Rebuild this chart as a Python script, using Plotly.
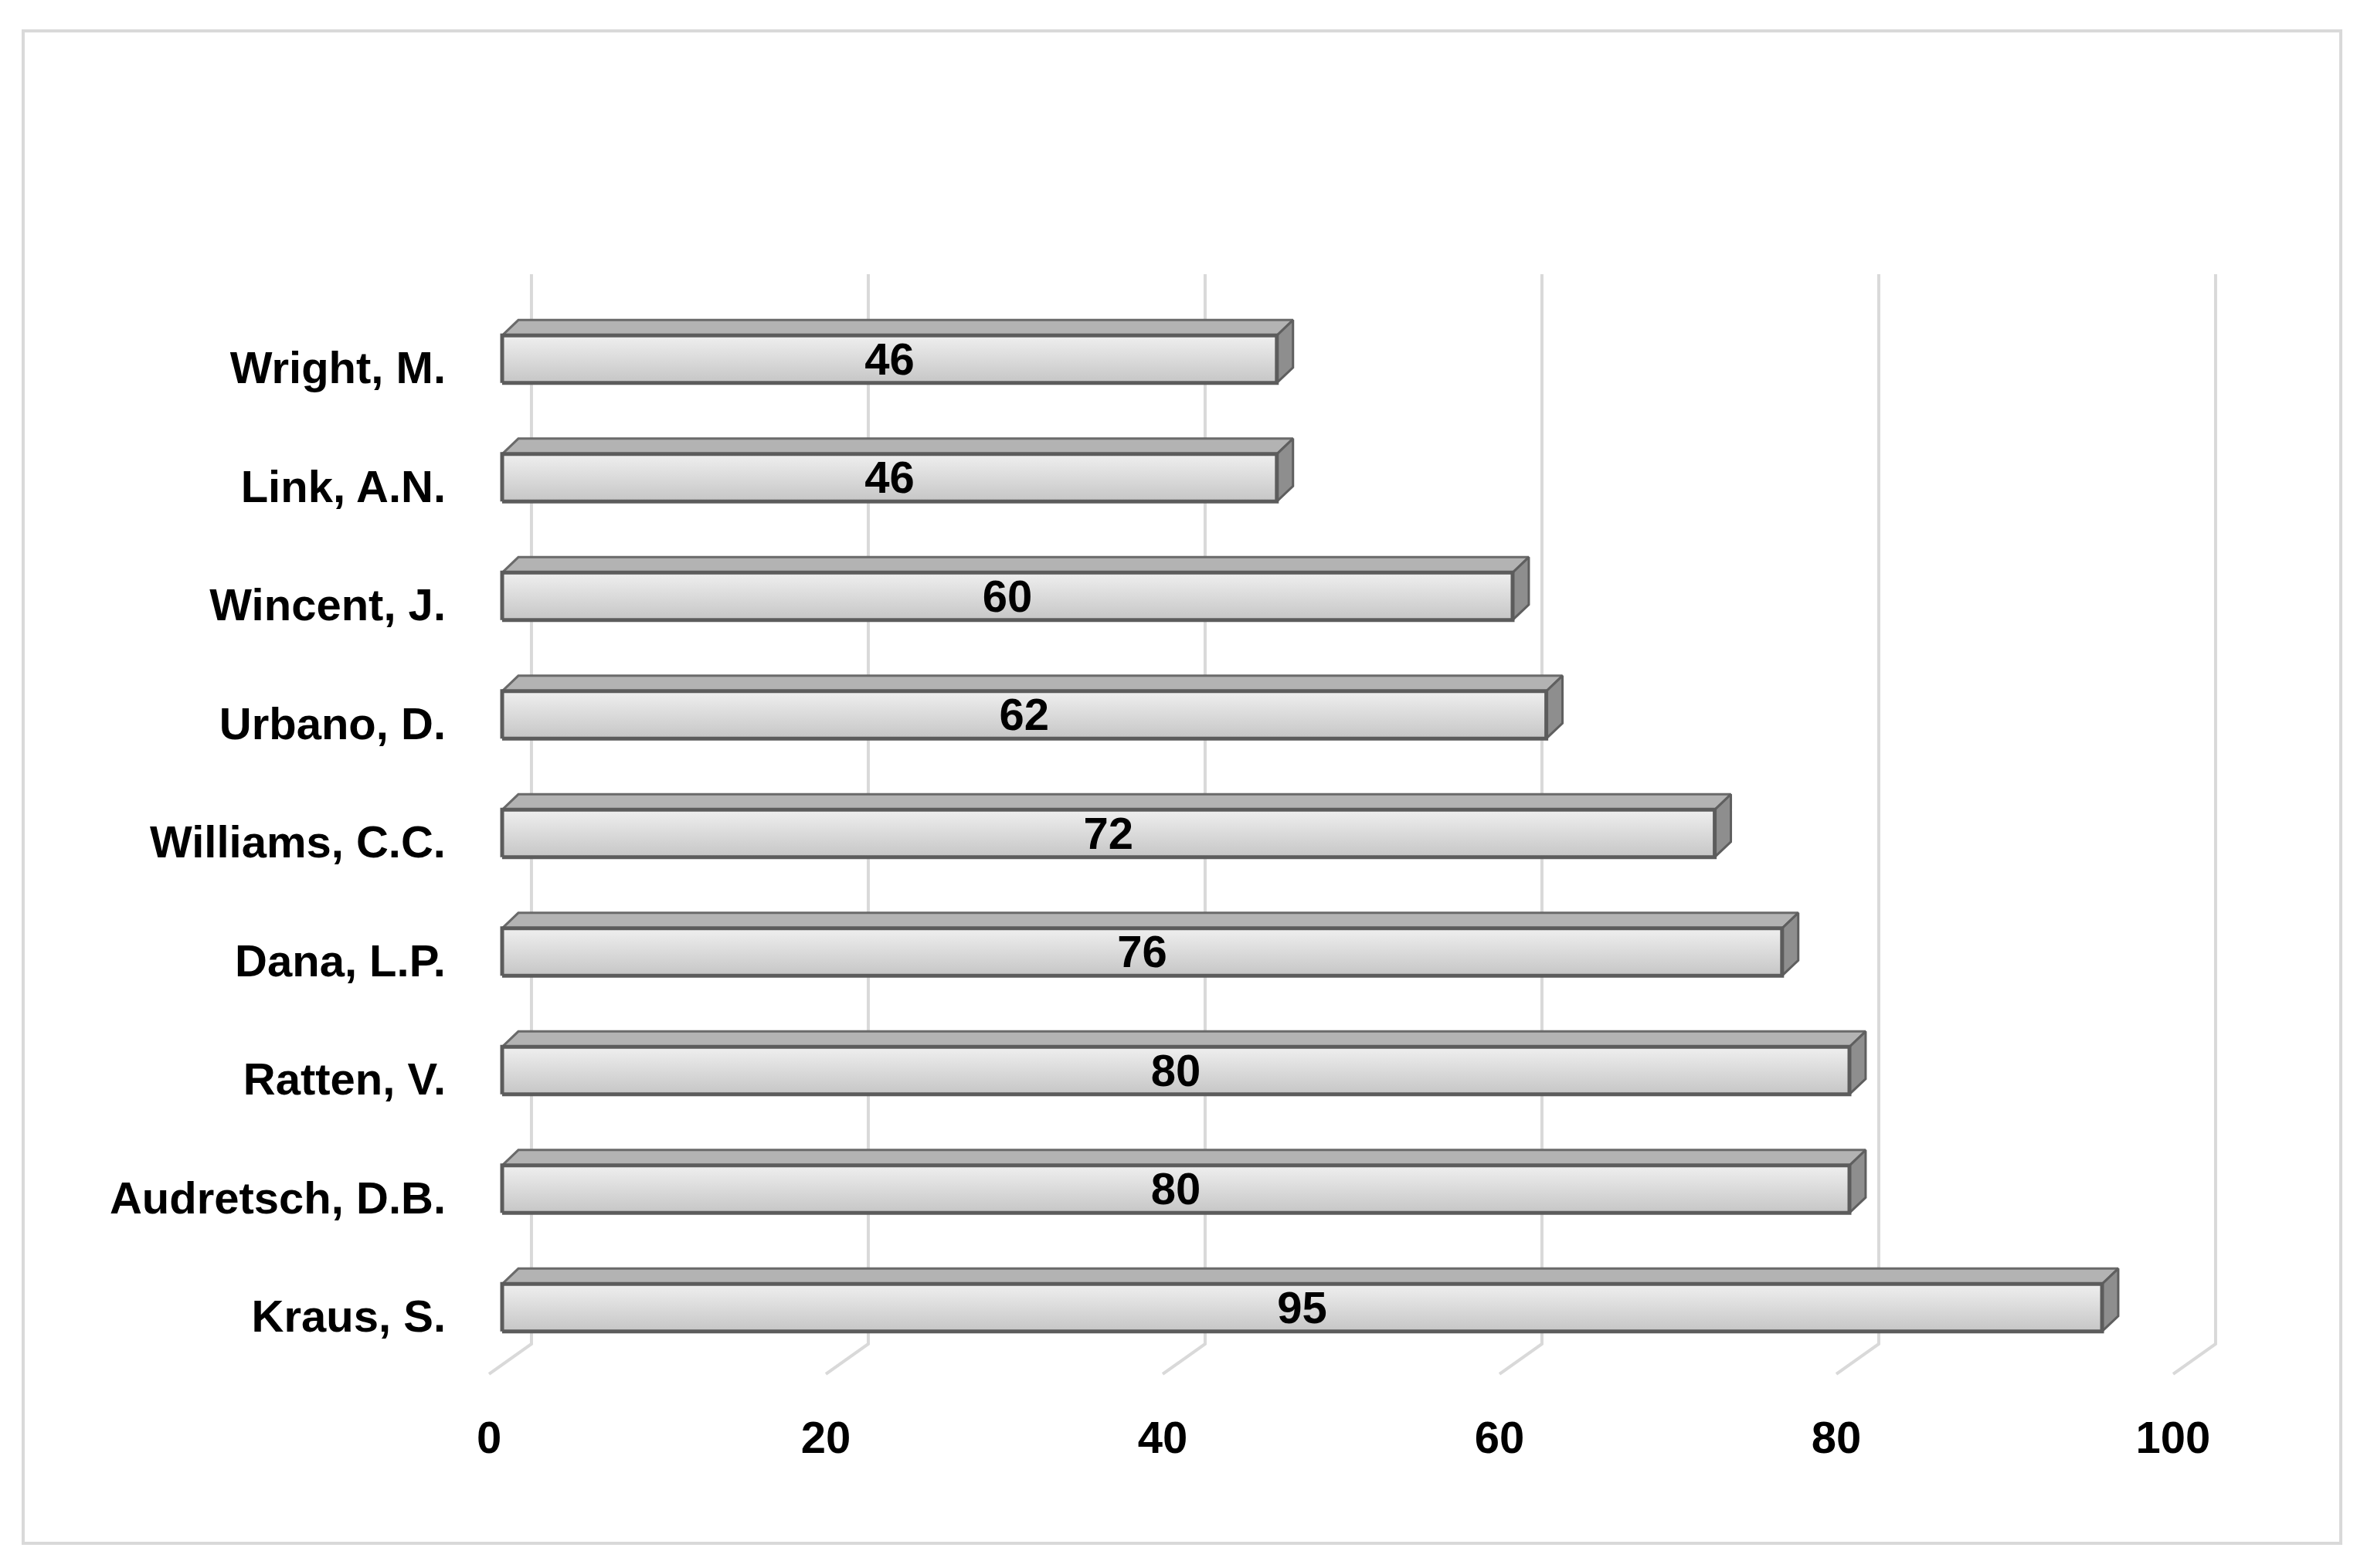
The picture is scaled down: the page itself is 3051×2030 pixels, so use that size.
import plotly.graph_objects as go

authors = ["Kraus, S.", "Audretsch, D.B.", "Ratten, V.", "Dana, L.P.", "Williams, C.C.",
           "Urbano, D.", "Wincent, J.", "Link, A.N.", "Wright, M."]
documents = [95, 80, 80, 76, 72, 62, 60, 46, 46]
x_ticks = [0, 20, 40, 60, 80, 100]

# canvas / plot area in pixels
W_FIG, H_FIG = 3051, 2030
PL, PT, PW, PH = 592, 292, 2300, 1500

# x: 0 -> px 650, 21.8 px per unit ; y: category pitch 153.5 px
X_MIN, X_MAX = -50 / 21.8, -50 / 21.8 + PW / 21.8
Y_MAX, Y_MIN = (1693 - 300) / 153.5, -(300 + PH - 1693) / 153.5

FONT = "Liberation Sans"
BAR_H = 0.40          # front face height (category units)
DX, DY = 0.96, 0.13   # 3d depth offset of the bars
WALL_DX = 1.74        # back wall offset of gridlines
FRONT_DX = -0.78      # front plane offset (tick labels)
GRID_TOP, WALL_BOTTOM, FRONT_BOTTOM = 8.717, -0.306, -0.56
TEXT_DY = -0.035      # labels sit slightly below bar centre
LABEL_DY = -0.07

fig = go.Figure()

# back wall gridlines + floor diagonals
for t in x_ticks:
    fig.add_trace(go.Scatter(
        x=[t + WALL_DX, t + WALL_DX, t + FRONT_DX],
        y=[GRID_TOP, WALL_BOTTOM, FRONT_BOTTOM],
        mode="lines", line=dict(color="#d9d9d9", width=4),
        hoverinfo="skip", showlegend=False))

for i, v in enumerate(documents):
    lo, hi = i - BAR_H / 2, i + BAR_H / 2
    # top face
    fig.add_trace(go.Scatter(
        x=[0, v, v + DX, DX, 0], y=[hi, hi, hi + DY, hi + DY, hi],
        fill="toself", fillcolor="#b3b3b3", mode="lines",
        line=dict(color="#6a6a6a", width=3), hoverinfo="skip", showlegend=False))
    # right side face
    fig.add_trace(go.Scatter(
        x=[v, v + DX, v + DX, v, v], y=[lo, lo + DY, hi + DY, hi, lo],
        fill="toself", fillcolor="#8e8e8e", mode="lines",
        line=dict(color="#5f5f5f", width=3), hoverinfo="skip", showlegend=False))
    # front face
    fig.add_trace(go.Scatter(
        x=[0, v, v, 0, 0], y=[lo, lo, hi, hi, lo],
        fill="toself", mode="lines",
        fillgradient=dict(type="vertical", colorscale=[[0, "#c6c6c6"], [1, "#efefef"]]),
        line=dict(color="#5c5c5c", width=5), hoverinfo="skip", showlegend=False))

# value labels
fig.add_trace(go.Scatter(
    x=[v / 2 for v in documents], y=[i + TEXT_DY for i in range(len(documents))],
    text=[str(v) for v in documents], mode="text",
    textfont=dict(family=FONT, size=58, color="black", weight="bold"),
    hoverinfo="skip", showlegend=False))

# outer chart frame
fx0, fx1, fy0, fy1 = 22, 3022, 32, 1990
fig.add_shape(type="rect", xref="paper", yref="paper",
              x0=(fx0 - PL) / PW, x1=(fx1 - PL) / PW,
              y0=(PT + PH - fy1) / PH, y1=(PT + PH - fy0) / PH,
              line=dict(color="#d9d9d9", width=4), layer="below")

fig.update_layout(
    width=W_FIG, height=H_FIG,
    margin=dict(l=PL, r=W_FIG - PL - PW, t=PT, b=H_FIG - PT - PH),
    plot_bgcolor="white", paper_bgcolor="white",
    showlegend=False,
    font=dict(family=FONT, size=58, color="black", weight="bold"),
)
fig.update_xaxes(range=[X_MIN, X_MAX], showgrid=False, zeroline=False, showline=False,
                 tickvals=[t + FRONT_DX for t in x_ticks], ticktext=[str(t) for t in x_ticks],
                 ticks="", ticklabelstandoff=22)
fig.update_yaxes(range=[Y_MIN, Y_MAX], showgrid=False, zeroline=False, showline=False,
                 tickvals=[i + LABEL_DY for i in range(len(authors))], ticktext=authors,
                 ticks="", ticklabelstandoff=22)

fig.write_html("out.html")
